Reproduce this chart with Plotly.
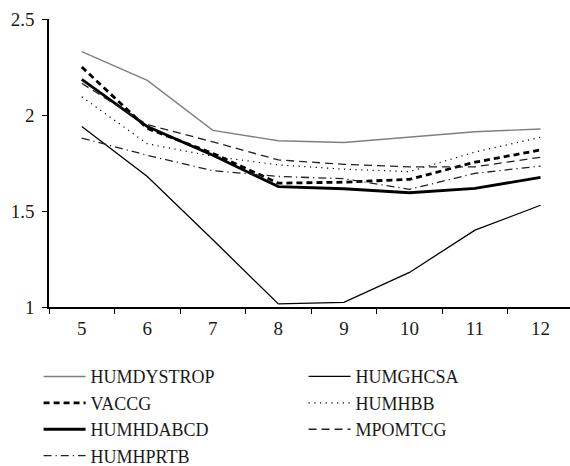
import plotly.graph_objects as go

x_labels = ["5", "6", "7", "8", "9", "10", "11", "12"]

humdystrop = [2.33, 2.18, 1.92, 1.866, 1.857, 1.885, 1.913, 1.927]
humghcsa = [1.94, 1.68, 1.35, 1.016, 1.024, 1.18, 1.40, 1.53]
vaccg = [2.25, 1.93, 1.80, 1.645, 1.65, 1.665, 1.754, 1.818]
humhbb = [2.095, 1.85, 1.785, 1.74, 1.718, 1.705, 1.807, 1.884]
humhdabcd = [2.186, 1.94, 1.79, 1.627, 1.616, 1.595, 1.618, 1.675]
mpomtcg = [2.165, 1.95, 1.86, 1.766, 1.743, 1.73, 1.73, 1.78]
humhprtb = [1.88, 1.79, 1.71, 1.68, 1.668, 1.613, 1.696, 1.734]

y_tickvals = [1, 1.5, 2, 2.5]
y_ticktext = ["1", "1.5", "2", "2.5"]

series = [
    ("HUMDYSTROP", humdystrop, dict(color="#7f7f7f", width=1.4, dash="solid")),
    ("HUMGHCSA", humghcsa, dict(color="#000000", width=1.3, dash="solid")),
    ("VACCG", vaccg, dict(color="#000000", width=2.8, dash="6px,4px")),
    ("HUMHBB", humhbb, dict(color="#000000", width=1.2, dash="1.2px,4.5px")),
    ("HUMHDABCD", humhdabcd, dict(color="#000000", width=2.8, dash="solid")),
    ("MPOMTCG", mpomtcg, dict(color="#222222", width=1.3, dash="8px,5px")),
    ("HUMHPRTB", humhprtb, dict(color="#222222", width=1.3, dash="8px,4px,1.2px,4px")),
]

serif = "Liberation Serif, Times New Roman, serif"

fig = go.Figure()
for name, vals, line in series:
    fig.add_trace(go.Scatter(x=x_labels, y=vals, mode="lines", name=name, line=line))

fig.update_layout(
    width=570,
    height=466,
    margin=dict(l=49, r=0, t=19, b=159, autoexpand=False),
    paper_bgcolor="white",
    plot_bgcolor="white",
    font=dict(family=serif, color="#1a1a1a", size=19),
    showlegend=True,
    legend=dict(
        orientation="h",
        x=-0.02,
        y=-0.178,
        xanchor="left",
        yanchor="top",
        entrywidth=208,
        itemwidth=42,
        font=dict(size=18, family=serif, color="#1a1a1a"),
        bgcolor="rgba(0,0,0,0)",
        traceorder="normal",
    ),
    xaxis=dict(
        type="category",
        range=[-0.5, 7.45],
        tickson="boundaries",
        ticks="outside",
        ticklen=5,
        tickwidth=1.3,
        tickcolor="#000",
        showline=True,
        linecolor="#000",
        linewidth=1.5,
        showgrid=False,
        zeroline=False,
        tickfont=dict(size=19),
        ticklabelstandoff=3,
    ),
    yaxis=dict(
        range=[1, 2.5],
        tickvals=y_tickvals,
        ticktext=y_ticktext,
        ticks="outside",
        ticklen=5,
        tickwidth=1.3,
        tickcolor="#000",
        showline=True,
        linecolor="#000",
        linewidth=1.5,
        showgrid=False,
        zeroline=False,
        tickfont=dict(size=19),
        ticklabelstandoff=4,
    ),
)

fig.write_html(
    "out.html",
    config={"displayModeBar": False},
    post_script="document.body.style.margin='0';document.body.style.padding='0';",
)
